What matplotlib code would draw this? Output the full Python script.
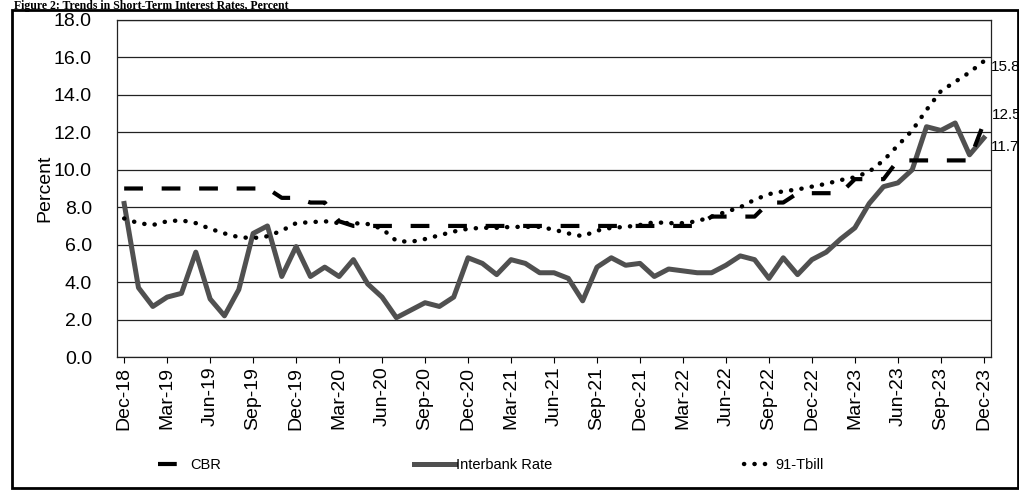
import numpy as np
import matplotlib
matplotlib.use('Agg')
import matplotlib.pyplot as plt
from matplotlib.lines import Line2D
from matplotlib.patches import Rectangle

# monthly observations, Dec-18 .. Dec-23
months = ['Dec-18', 'Jan-19', 'Feb-19', 'Mar-19', 'Apr-19', 'May-19', 'Jun-19', 'Jul-19', 'Aug-19',
          'Sep-19', 'Oct-19', 'Nov-19', 'Dec-19', 'Jan-20', 'Feb-20', 'Mar-20', 'Apr-20', 'May-20',
          'Jun-20', 'Jul-20', 'Aug-20', 'Sep-20', 'Oct-20', 'Nov-20', 'Dec-20', 'Jan-21', 'Feb-21',
          'Mar-21', 'Apr-21', 'May-21', 'Jun-21', 'Jul-21', 'Aug-21', 'Sep-21', 'Oct-21', 'Nov-21',
          'Dec-21', 'Jan-22', 'Feb-22', 'Mar-22', 'Apr-22', 'May-22', 'Jun-22', 'Jul-22', 'Aug-22',
          'Sep-22', 'Oct-22', 'Nov-22', 'Dec-22', 'Jan-23', 'Feb-23', 'Mar-23', 'Apr-23', 'May-23',
          'Jun-23', 'Jul-23', 'Aug-23', 'Sep-23', 'Oct-23', 'Nov-23', 'Dec-23']

cbr = [9.0] * 11 + [8.5] * 2 + [8.25] * 2 + [7.25] + [7.0] * 25 + [7.5] * 4 + [8.25] * 2 \
      + [8.75] * 4 + [9.5] * 3 + [10.5] * 6 + [12.5]

interbank = [8.2, 3.7, 2.7, 3.2, 3.4, 5.6, 3.1, 2.2, 3.6, 6.6, 7.0, 4.3, 5.9, 4.3, 4.8, 4.3,
             5.2, 3.9, 3.2, 2.1, 2.5, 2.9, 2.7, 3.2, 5.3, 5.0, 4.4, 5.2, 5.0, 4.5, 4.5, 4.2,
             3.0, 4.8, 5.3, 4.9, 5.0, 4.3, 4.7, 4.6, 4.5, 4.5, 4.9, 5.4, 5.2, 4.2, 5.3, 4.4,
             5.2, 5.6, 6.3, 6.9, 8.2, 9.1, 9.3, 10.0, 12.3, 12.1, 12.5, 10.8, 11.7]

tbill = [7.4, 7.15, 7.05, 7.25, 7.3, 7.15, 6.85, 6.6, 6.4, 6.35, 6.45, 6.75, 7.15, 7.2, 7.25,
         7.15, 7.15, 7.1, 6.85, 6.2, 6.15, 6.3, 6.5, 6.7, 6.85, 6.9, 6.9, 6.95, 6.95, 6.95,
         6.8, 6.6, 6.45, 6.75, 6.9, 6.95, 7.05, 7.2, 7.15, 7.15, 7.25, 7.5, 7.75, 8.0, 8.4,
         8.7, 8.85, 8.95, 9.1, 9.25, 9.45, 9.6, 9.9, 10.5, 11.3, 12.1, 13.2, 14.2, 14.7,
         15.2, 15.8]

yticks = np.arange(0, 18.1, 2.0)

font = 'Liberation Sans'
ib_color = '#505050'

fig = plt.figure(figsize=(10.2, 4.93), dpi=100)
ax = fig.add_axes([117 / 1020, 136 / 493, 874 / 1020, 337 / 493])

x = np.arange(len(months))
ax.plot(x, interbank, color=ib_color, lw=3.6, solid_joinstyle='round', zorder=3)
ax.plot(x, cbr, color='black', lw=3.0, dashes=(4.5, 4.5), dash_capstyle='butt', zorder=4)
ax.plot(x, tbill, color='black', lw=3.2, dashes=(0.05, 2.3), dash_capstyle='round', zorder=4)

ax.set_xlim(-0.5, len(months) - 0.5)
ax.set_ylim(0, 18)
ax.set_yticks(yticks)
ax.set_yticklabels(['%.1f' % v for v in yticks], fontsize=14, family=font)
ax.yaxis.grid(True, color='#222222', lw=0.9)
ax.set_axisbelow(True)
ax.tick_params(axis='y', length=0, pad=18)

ax.set_xticks(x[::3])
ax.set_xticklabels(months[::3], rotation=90, fontsize=14, family=font)
ax.tick_params(axis='x', length=4, width=0.8, direction='out', pad=3)
for s in ax.spines.values():
    s.set_linewidth(0.9)
    s.set_color('#222222')

ax.set_ylabel('Percent', fontsize=14, family=font, labelpad=0)

# end-of-series labels
ax.text(len(months) - 0.5, tbill[-1] - 0.3, '%.1f' % tbill[-1], fontsize=11, family=font,
        va='center', ha='left', clip_on=False)
ax.text(len(months) - 0.45, cbr[-1] + 0.4, '%.1f' % cbr[-1], fontsize=11, family=font,
        va='center', ha='left', clip_on=False)
ax.text(len(months) - 0.5, interbank[-1] - 0.5, '%.1f' % interbank[-1], fontsize=11, family=font,
        va='center', ha='left', clip_on=False)

# legend entries, one per series
entries = [
    (Line2D([], [], color='black', lw=3.0, dashes=(4.5, 8)), 'CBR', 158, 1.8, 0.4),
    (Line2D([], [], color=ib_color, lw=3.6), 'Interbank Rate', 414, 2.8, 0.05),
    (Line2D([], [], color='black', lw=3.2, dashes=(0.05, 2.3), dash_capstyle='round'),
     '91-Tbill', 744, 2.1, 0.05),
]
for h, lab, px, hl, tp in entries:
    fig.legend([h], [lab], loc='center left', bbox_to_anchor=(px / 1020, 28 / 493),
               frameon=False, handlelength=hl, handletextpad=tp, borderpad=0, borderaxespad=0,
               prop={'family': font, 'size': 10.5})

# chart frame and the figure title above it
fig.patches.append(Rectangle((12 / 1020, 5 / 493), 1006 / 1020, 478 / 493, transform=fig.transFigure,
                             fill=False, ec='black', lw=2.0))
fig.text(14 / 1020, 1.0, 'Figure 2: Trends in Short-Term Interest Rates, Percent',
         fontsize=8.5, family='Liberation Serif', weight='bold', va='top', ha='left')

fig.savefig('out.png', dpi=100)
